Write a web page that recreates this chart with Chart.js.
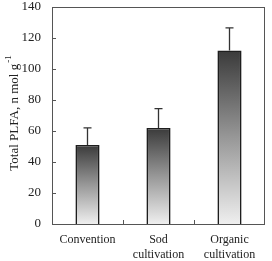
<!DOCTYPE html>
<html>
<head>
<meta charset="utf-8">
<script src="https://cdn.jsdelivr.net/npm/chart.js@4.4.1/dist/chart.umd.min.js"></script>
<style>
  html, body { margin: 0; padding: 0; background: #fff; }
  canvas { display: block; }
</style>
</head>
<body>
<canvas id="chart" width="272" height="261"></canvas>
<script>
// data
const categories = [["Convention"], ["Sod", "cultivation"], ["Organic", "cultivation"]];
const plfa = [51, 62, 112];
const errUp = [11, 12.5, 14.5];
const yTicks = [0, 20, 40, 60, 80, 100, 120, 140];

const serif = "'Liberation Serif', 'Times New Roman', serif";
const ink = "#222";

// error bars, inner ticks, frame and y title
const extras = {
    id: "extras",
    afterDatasetsDraw(chart) {
        const ctx = chart.ctx;
        const area = chart.chartArea;
        const x = chart.scales.x, y = chart.scales.y;
        ctx.save();

        // error bars (upper only)
        ctx.strokeStyle = "#333";
        ctx.lineWidth = 1.3;
        plfa.forEach((v, i) => {
            const px = x.getPixelForValue(i);
            const y0 = y.getPixelForValue(v);
            const y1 = y.getPixelForValue(v + errUp[i]);
            ctx.beginPath();
            ctx.moveTo(px, y0);
            ctx.lineTo(px, y1);
            ctx.moveTo(px - 4, y1);
            ctx.lineTo(px + 4, y1);
            ctx.stroke();
        });

        // frame
        ctx.strokeStyle = "#555";
        ctx.lineWidth = 1;
        ctx.strokeRect(Math.round(area.left) + 0.5, Math.round(area.top) + 0.5,
            Math.round(area.right - area.left) - 1, Math.round(area.bottom - area.top));

        // inward ticks
        ctx.beginPath();
        yTicks.forEach(t => {
            const py = Math.round(y.getPixelForValue(t)) + 0.5;
            ctx.moveTo(area.left, py);
            ctx.lineTo(area.left + 4, py);
        });
        for (let i = 0; i < categories.length - 1; i++) {
            const px = Math.round((x.getPixelForValue(i) + x.getPixelForValue(i + 1)) / 2) + 0.5;
            ctx.moveTo(px, area.bottom);
            ctx.lineTo(px, area.bottom - 4);
        }
        ctx.stroke();

        // y title with superscript
        ctx.fillStyle = ink;
        ctx.translate(15, (area.top + area.bottom) / 2 - 2);
        ctx.rotate(-Math.PI / 2);
        ctx.font = "13px " + serif;
        ctx.textBaseline = "middle";
        const main = "Total PLFA, n mol g";
        const w = ctx.measureText(main).width;
        ctx.font = "9px " + serif;
        const sw = ctx.measureText("-1").width;
        const start = -(w + sw) / 2;
        ctx.font = "13px " + serif;
        ctx.textAlign = "left";
        ctx.fillText(main, start, 0);
        ctx.font = "9px " + serif;
        ctx.fillText("-1", start + w + 1, -6);
        ctx.restore();
    }
};

const ctx = document.getElementById("chart").getContext("2d");

new Chart(ctx, {
    type: "bar",
    data: {
        labels: categories,
        datasets: [{
            data: plfa,
            backgroundColor: (c) => {
                const chart = c.chart;
                if (!chart.chartArea || c.dataIndex === undefined) return "#888";
                const y = chart.scales.y;
                const top = y.getPixelForValue(plfa[c.dataIndex]);
                const bottom = y.getPixelForValue(0);
                const g = chart.ctx.createLinearGradient(0, top, 0, bottom);
                g.addColorStop(0, "#3a3a3a");
                g.addColorStop(0.5, "#979797");
                g.addColorStop(1, "#efefef");
                return g;
            },
            borderColor: "#1e1e1e",
            borderWidth: 1.6,
            borderSkipped: "bottom",
            categoryPercentage: 1,
            barPercentage: 0.34
        }]
    },
    options: {
        responsive: false,
        animation: false,
        layout: { padding: { top: 7, right: 7, left: 0, bottom: 0 } },
        plugins: {
            legend: { display: false },
            tooltip: { enabled: false }
        },
        scales: {
            x: {
                grid: { display: false, drawTicks: false },
                border: { display: false },
                ticks: {
                    color: ink,
                    padding: 9,
                    maxRotation: 0,
                    autoSkip: false,
                    font: { family: serif, size: 12 }
                },
                afterFit(s) {
                    s.height = 37;
                    s.paddingLeft = 0;
                    s.paddingRight = 0;
                }
            },
            y: {
                min: 0,
                max: 140,
                grid: { display: false, drawTicks: false },
                border: { display: false },
                ticks: {
                    stepSize: 20,
                    color: ink,
                    padding: 11,
                    font: { family: serif, size: 13 }
                },
                afterFit(s) {
                    s.width = 52;
                    s.paddingTop = 0;
                    s.paddingBottom = 0;
                }
            }
        }
    },
    plugins: [extras]
});
</script>
</body>
</html>
